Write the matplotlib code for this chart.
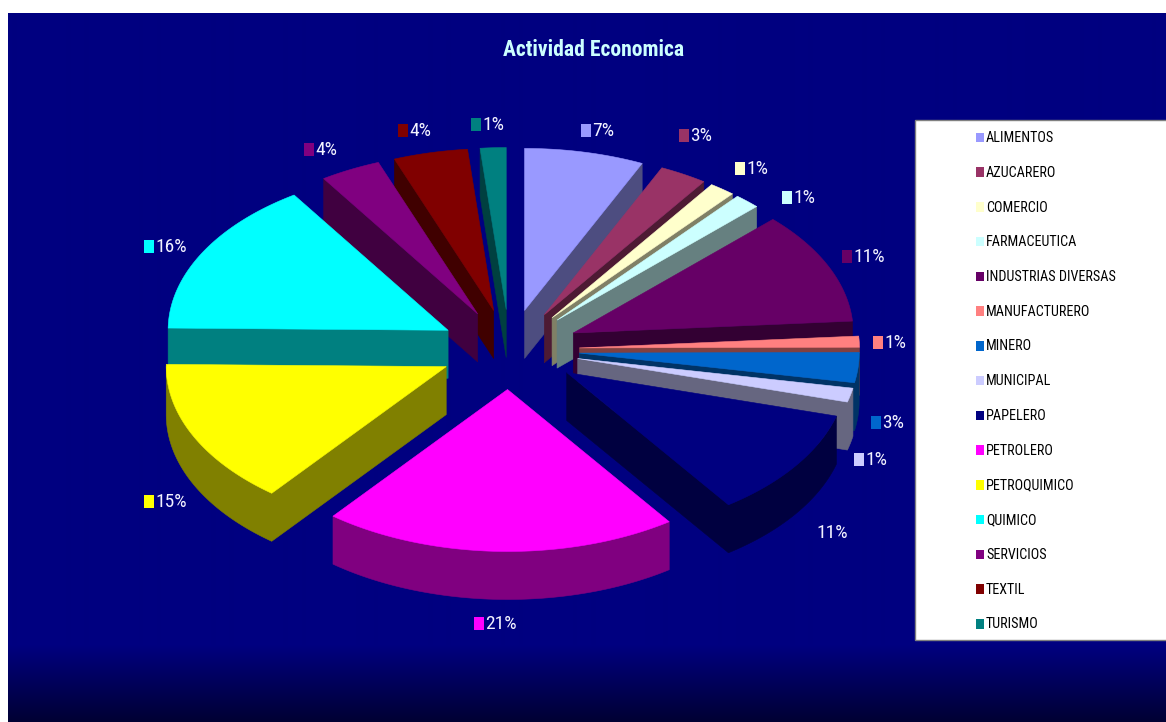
# Actividad Economica: pastel 3D separado, con leyenda a la derecha
import numpy as np
import matplotlib
matplotlib.use('Agg')
import matplotlib.pyplot as plt
from matplotlib.patches import Rectangle, Polygon
from matplotlib.colors import to_rgb

plt.rcParams['font.family'] = ['Roboto Condensed', 'Archivo Narrow', 'Liberation Sans', 'DejaVu Sans']

# ############ Datos
sectores = ['ALIMENTOS', 'AZUCARERO', 'COMERCIO', 'FARMACEUTICA', 'INDUSTRIAS DIVERSAS',
            'MANUFACTURERO', 'MINERO', 'MUNICIPAL', 'PAPELERO', 'PETROLERO',
            'PETROQUIMICO', 'QUIMICO', 'SERVICIOS', 'TEXTIL', 'TURISMO']
valores = [6.9, 2.75, 1.49, 1.49, 11.2, 1.1, 3.0, 1.4, 10.87, 20.51, 14.51, 15.51, 3.5, 4.28, 1.49]
colores = ['#9999FF', '#993366', '#FFFFCC', '#CCFFFF', '#660066', '#FF8080', '#0066CC', '#CCCCFF',
           '#000080', '#FF00FF', '#FFFF00', '#00FFFF', '#800080', '#800000', '#008080']

# ############ Posicion de las etiquetas (x del cuadro, y del centro)
etiq_x = [581, 679, 735, 782, 842, 873, 871, 854, 805, 474, 144, 144, 304, 398, 471]
etiq_y = [130, 135, 168, 197, 256, 342, 422, 459, 532, 623, 501, 246, 149, 130, 124]

# ############ Geometria del pastel
cx, cy = 509.5, 349.5
rx, ry = 280, 162
sep_x, sep_y = 70, 40
alto = 48

fig = plt.figure(figsize=(11.66, 7.22), dpi=100, facecolor='white')
ax = fig.add_axes([0, 0, 1, 1])
ax.axis('off')

# Fondo azul que se oscurece abajo
fondo = np.zeros((709, 1, 3))
t = np.clip((np.arange(709) + 13 - 645) / (722 - 645), 0, 1)
fondo[:, 0, 2] = (128 - 78 * t) / 255
ax.imshow(fondo, extent=(8, 1166, 722, 13), aspect='auto', interpolation='bilinear', zorder=0)
ax.set_xlim(0, 1166)
ax.set_ylim(722, 0)

# Angulos de cada rebanada, en sentido horario desde arriba
total = sum(valores)
fin = np.cumsum(valores) / total * 2 * np.pi
ini = np.concatenate(([0], fin[:-1]))
medio = (ini + fin) / 2

# Se pintan primero las rebanadas del fondo
orden = np.argsort(-np.cos(medio))
z = 2
for i in orden:
    ox = cx + sep_x * np.sin(medio[i])
    oy = cy - sep_y * np.cos(medio[i])
    th = np.linspace(ini[i], fin[i], 80)
    pts = np.column_stack((np.concatenate(([ox], ox + rx * np.sin(th))),
                           np.concatenate(([oy], oy - ry * np.cos(th)))))
    color = to_rgb(colores[i])
    lado = tuple(c * 0.5 for c in color)

    # Paredes: tramos seguidos cuyo lado exterior mira hacia abajo
    n = len(pts)
    visibles = [pts[(j + 1) % n][0] < pts[j][0] for j in range(n)]
    arranque = next((j for j in range(n) if not visibles[j]), 0)
    tramo = []
    for k in range(n + 1):
        j = (arranque + k) % n
        if k < n and visibles[j]:
            if not tramo:
                tramo.append(pts[j])
            tramo.append(pts[(j + 1) % n])
        elif tramo:
            arriba = np.array(tramo)
            abajo = arriba[::-1] + [0, alto]
            ax.add_patch(Polygon(np.vstack((arriba, abajo)), closed=True,
                                 facecolor=lado, edgecolor=lado, lw=0.4, zorder=z))
            tramo = []
    z += 1
    ax.add_patch(Polygon(pts, closed=True, facecolor=color, edgecolor=color, lw=0.4, zorder=z))
    z += 1

# Etiquetas de porcentaje con su cuadro de color
for i in range(len(valores)):
    ax.add_patch(Rectangle((etiq_x[i], etiq_y[i] - 6), 10, 13, facecolor=colores[i], lw=0, zorder=100))
    ax.text(etiq_x[i] + 11.5, etiq_y[i] + 1, f'{valores[i] / total * 100:.0f}%', color='#F2F2FF', fontsize=14,
            ha='left', va='center', zorder=101)

ax.text(593.5, 50, 'Actividad Economica', color='#CCFFFF', fontsize=15.6, fontweight='bold',
        ha='center', va='center', zorder=101)

# Leyenda
ax.add_patch(Rectangle((915, 120), 260, 520, facecolor='white', edgecolor='#808080', lw=1, zorder=100))
for i, nombre in enumerate(sectores):
    y = 137 + i * 34.75
    ax.add_patch(Rectangle((976, y - 4.5), 8, 9.5, facecolor=colores[i], lw=0, zorder=101))
    ax.text(986, y + 1, nombre, color='black', fontsize=10.2, ha='left', va='center', zorder=102)

fig.savefig('out.png', dpi=100, facecolor='white')
